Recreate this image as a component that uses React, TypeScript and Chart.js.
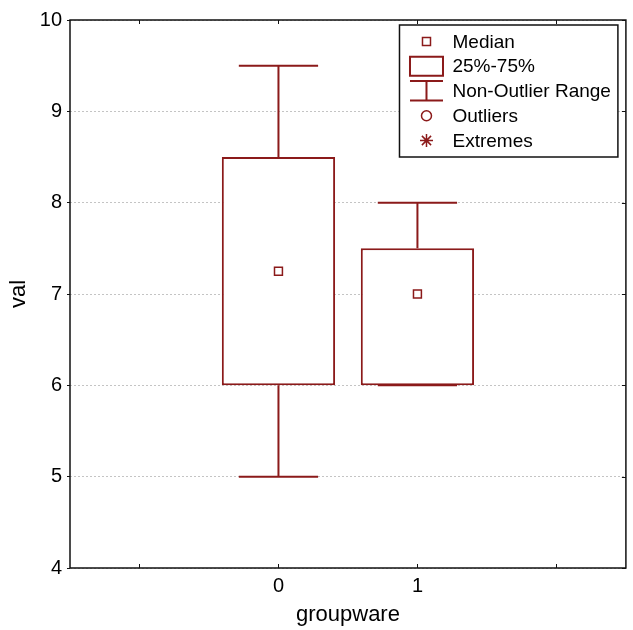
import React, { useEffect, useRef } from 'react';
import { Chart, registerables } from 'chart.js';

Chart.register(...registerables);

// ---- data ----
const categories = ['0', '1'];
const q1 = [6, 6];
const q3 = [8.5, 7.5];
const medians = [7.25, 7.0];
const whiskerLow = [5, 6];
const whiskerHigh = [9.5, 8];
const yMin = 4;
const yMax = 10;
const yStep = 1;
const legendItems = ['Median', '25%-75%', 'Non-Outlier Range', 'Outliers', 'Extremes'];
const xTitle = 'groupware';
const yTitle = 'val';

const COLOR = '#8b1a1a';
const FONT = "'Liberation Sans', Arial, Helvetica, sans-serif";

const labels = ['', ...categories, ''];
const boxData: any[] = [null, ...categories.map((_, i) => [q1[i], q3[i]]), null];
const medianData: any[] = [null, ...medians, null];

const boxPlugin = {
  id: 'boxExtras',
  afterDatasetsDraw(chart: any) {
    const { ctx } = chart;
    const meta = chart.getDatasetMeta(0);
    const y = chart.scales.y;
    ctx.save();
    ctx.strokeStyle = COLOR;
    ctx.lineWidth = 2;
    categories.forEach((_, i) => {
      const bar = meta.data[i + 1];
      if (!bar) return;
      const x = bar.x;
      const half = (bar.width * 0.7) / 2;
      const yHi = y.getPixelForValue(whiskerHigh[i]);
      const yLo = y.getPixelForValue(whiskerLow[i]);
      const yQ3 = y.getPixelForValue(q3[i]);
      const yQ1 = y.getPixelForValue(q1[i]);
      ctx.beginPath();
      ctx.moveTo(x, yQ3);
      ctx.lineTo(x, yHi);
      ctx.moveTo(x - half, yHi);
      ctx.lineTo(x + half, yHi);
      ctx.moveTo(x, yQ1);
      ctx.lineTo(x, yLo);
      ctx.moveTo(x - half, yLo);
      ctx.lineTo(x + half, yLo);
      ctx.stroke();
    });
    ctx.restore();
  },
  afterDraw(chart: any) {
    const { ctx, chartArea } = chart;
    const { left, right, top, bottom } = chartArea;
    const xs = chart.scales.x;
    const ys = chart.scales.y;
    ctx.save();
    // frame
    ctx.strokeStyle = '#111';
    ctx.lineWidth = 1.5;
    ctx.strokeRect(left, top, right - left, bottom - top);
    // inward ticks
    ctx.lineWidth = 1;
    ctx.beginPath();
    xs.ticks.forEach((_: any, i: number) => {
      const px = Math.round(xs.getPixelForTick(i)) + 0.5;
      ctx.moveTo(px, bottom);
      ctx.lineTo(px, bottom - 4);
      ctx.moveTo(px, top);
      ctx.lineTo(px, top + 4);
    });
    ys.ticks.forEach((_: any, i: number) => {
      const py = Math.round(ys.getPixelForTick(i)) + 0.5;
      ctx.moveTo(right, py);
      ctx.lineTo(right - 4, py);
    });
    ctx.stroke();

    // legend
    ctx.font = `19px ${FONT}`;
    const maxW = Math.max(...legendItems.map((t) => ctx.measureText(t).width));
    const textOffset = 53;
    const w = textOffset + maxW + 7;
    const lRight = right - 8;
    const lTop = top + 5;
    const lLeft = lRight - w;
    const rowH = 24.75;
    const h = 132;
    ctx.fillStyle = '#fff';
    ctx.fillRect(lLeft, lTop, w, h);
    ctx.strokeStyle = '#111';
    ctx.lineWidth = 1.5;
    ctx.strokeRect(lLeft, lTop, w, h);
    const cx = lLeft + 27;
    legendItems.forEach((t, k) => {
      const cy = lTop + 16.5 + k * rowH;
      ctx.strokeStyle = COLOR;
      ctx.lineWidth = 1.5;
      ctx.beginPath();
      if (k === 0) {
        ctx.strokeRect(cx - 4, cy - 4, 8, 8);
      } else if (k === 1) {
        ctx.lineWidth = 2;
        ctx.strokeRect(cx - 16.5, cy - 9.5, 33, 19);
      } else if (k === 2) {
        ctx.lineWidth = 2;
        ctx.moveTo(cx - 16.5, cy - 10);
        ctx.lineTo(cx + 16.5, cy - 10);
        ctx.moveTo(cx - 16.5, cy + 9.5);
        ctx.lineTo(cx + 16.5, cy + 9.5);
        ctx.moveTo(cx, cy - 10);
        ctx.lineTo(cx, cy + 9.5);
        ctx.stroke();
      } else if (k === 3) {
        ctx.arc(cx, cy, 5, 0, Math.PI * 2);
        ctx.stroke();
      } else {
        const r = 6.5;
        const d = r * Math.SQRT1_2;
        ctx.moveTo(cx, cy - r);
        ctx.lineTo(cx, cy + r);
        ctx.moveTo(cx - r, cy);
        ctx.lineTo(cx + r, cy);
        ctx.moveTo(cx - d, cy - d);
        ctx.lineTo(cx + d, cy + d);
        ctx.moveTo(cx - d, cy + d);
        ctx.lineTo(cx + d, cy - d);
        ctx.stroke();
      }
      ctx.fillStyle = '#000';
      ctx.textBaseline = 'middle';
      ctx.textAlign = 'left';
      ctx.fillText(t, lLeft + textOffset, cy + 1);
    });
    ctx.restore();
  },
};

export default function App() {
  const ref = useRef<HTMLCanvasElement>(null);
  useEffect(() => {
    if (!ref.current) return;
    Chart.defaults.font.family = FONT;
    Chart.defaults.color = '#000';
    const chart = new Chart(ref.current, {
      type: 'bar',
      data: {
        labels,
        datasets: [
          {
            type: 'bar',
            data: boxData,
            backgroundColor: '#fff',
            borderColor: COLOR,
            borderWidth: 2,
            borderSkipped: false,
            barPercentage: 0.815,
            categoryPercentage: 1,
            order: 2,
          } as any,
          {
            type: 'line',
            data: medianData,
            showLine: false,
            pointStyle: 'rect',
            pointRadius: 5.6,
            pointBackgroundColor: '#fff',
            pointBorderColor: COLOR,
            pointBorderWidth: 1.5,
            order: 1,
          } as any,
        ],
      },
      options: {
        responsive: false,
        animation: false,
        layout: { padding: { top: 20, right: 6, left: 0, bottom: 0 } },
        plugins: { legend: { display: false }, tooltip: { enabled: false } },
        scales: {
          x: {
            type: 'category',
            offset: true,
            grid: { display: false, offset: false },
            border: { display: false },
            ticks: { color: '#000', font: { size: 20 }, padding: -2, maxRotation: 0, autoSkip: false },
            title: { display: true, text: xTitle, color: '#000', font: { size: 22 }, padding: { top: 4, bottom: 2 } },
            afterFit: (s: any) => { s.height = 62; },
          },
          y: {
            min: yMin,
            max: yMax,
            ticks: { stepSize: yStep, color: '#000', font: { size: 20 }, padding: 5 },
            grid: { color: '#c4c4c4', lineWidth: 1, tickColor: '#111', tickLength: 3, tickBorderDash: [] },
            border: { display: false, dash: [2, 2] },
            title: { display: true, text: yTitle, color: '#000', font: { size: 22 }, padding: { top: 6, bottom: 4 } },
            afterFit: (s: any) => { s.width = 70; },
          },
        } as any,
      },
      plugins: [boxPlugin],
    });
    return () => chart.destroy();
  }, []);
  return (
    <div style={{ position: 'absolute', left: 0, top: 0, width: 633, height: 630 }}>
      <canvas ref={ref} width={633} height={630} />
    </div>
  );
}
